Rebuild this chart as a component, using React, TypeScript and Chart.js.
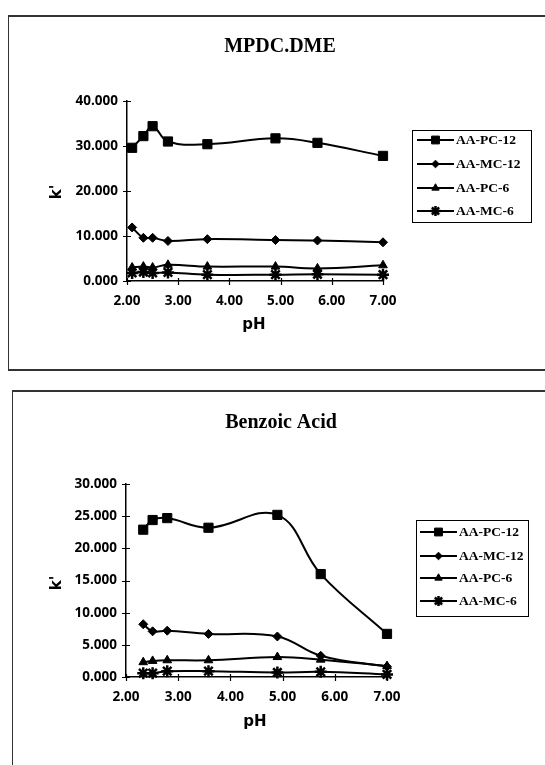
import React, { useEffect, useRef } from 'react';
import { Chart, registerables } from 'chart.js';
import { drawPoint } from 'chart.js/helpers';

Chart.register(...registerables);

// Series shared by both panels
const seriesNames = ['AA-PC-12', 'AA-MC-12', 'AA-PC-6', 'AA-MC-6'];
const seriesMarkers = ['rect', 'rectRot', 'triangle', 'star'];
const markerRadii = [6.5, 4.5, 5, 6];
const markerBorders = [1, 1, 1, 2.5];

// Shared x axis (pH)
const xTickValues = [2, 3, 4, 5, 6, 7];

// MPDC.DME panel
const mpdcPH = [2.1, 2.32, 2.5, 2.8, 3.57, 4.9, 5.72, 7.0];
const mpdcPC12 = [29.6, 32.2, 34.4, 31.0, 30.4, 31.7, 30.7, 27.8];
const mpdcMC12 = [11.9, 9.6, 9.6, 8.9, 9.3, 9.1, 9.0, 8.6];
const mpdcPC6 = [3.0, 3.2, 3.0, 3.6, 3.2, 3.2, 2.8, 3.5];
const mpdcMC6 = [1.8, 2.0, 1.8, 1.9, 1.4, 1.4, 1.5, 1.4];
const mpdcYTicks = [0, 10, 20, 30, 40];

// Benzoic Acid panel
const benzPH = [2.33, 2.51, 2.79, 3.58, 4.9, 5.73, 7.0];
const benzPC12 = [22.9, 24.4, 24.7, 23.2, 25.2, 16.0, 6.7];
const benzMC12 = [8.2, 7.1, 7.2, 6.7, 6.3, 3.3, 1.6];
const benzPC6 = [2.3, 2.5, 2.6, 2.6, 3.1, 2.7, 1.7];
const benzMC6 = [0.6, 0.6, 0.9, 0.9, 0.7, 0.8, 0.4];
const benzYTicks = [0, 5, 10, 15, 20, 25, 30];

const TICK_FONT = { family: '"Open Sans", sans-serif', size: 13.5, weight: 'bold' as const };

// Titles, axis captions, crossing tick marks and the boxed key
const paperDecor = {
  id: 'paperDecor',
  beforeDatasetsDraw(chart: any) {
    const { ctx } = chart;
    const xs = chart.scales.x;
    const ys = chart.scales.y;
    ctx.save();
    ctx.strokeStyle = '#000';
    ctx.lineWidth = 1.2;
    ctx.beginPath();
    xs.ticks.forEach((t: any) => {
      const px = Math.round(xs.getPixelForValue(t.value)) + 0.5;
      ctx.moveTo(px, xs.top - 3);
      ctx.lineTo(px, xs.top + 4);
    });
    ys.ticks.forEach((t: any) => {
      const py = Math.round(ys.getPixelForValue(t.value)) + 0.5;
      ctx.moveTo(ys.right - 4, py);
      ctx.lineTo(ys.right + 4, py);
    });
    ctx.stroke();
    ctx.restore();
  },
  afterDraw(chart: any, _args: any, o: any) {
    const { ctx } = chart;
    ctx.save();
    ctx.fillStyle = '#000';
    ctx.textBaseline = 'middle';

    // chart title
    ctx.textAlign = 'center';
    ctx.font = 'bold 20px "Liberation Serif", serif';
    ctx.fillText(o.title, o.titleX, o.titleY);

    // axis captions
    ctx.font = 'bold 15px "DejaVu Sans", sans-serif';
    ctx.fillText('pH', o.xTitleX, o.xTitleY);
    ctx.save();
    ctx.translate(o.yTitleX, o.yTitleY);
    ctx.rotate(-Math.PI / 2);
    ctx.fillText("k'", 0, 0);
    ctx.restore();

    // key
    const k = o.key;
    ctx.lineWidth = 1;
    ctx.strokeStyle = '#000';
    ctx.strokeRect(k.x + 0.5, k.y + 0.5, k.w, k.h);
    ctx.textAlign = 'left';
    ctx.font = 'bold 13.5px "Liberation Serif", serif';
    chart.data.datasets.forEach((ds: any, i: number) => {
      const ry = k.rows[i];
      ctx.lineWidth = 2;
      ctx.beginPath();
      ctx.moveTo(k.lineX0, ry);
      ctx.lineTo(k.lineX1, ry);
      ctx.stroke();
      ctx.fillStyle = '#000';
      ctx.strokeStyle = '#000';
      ctx.lineWidth = ds.pointBorderWidth;
      drawPoint(ctx, { pointStyle: ds.pointStyle, radius: ds.pointRadius * 0.85, rotation: 0, borderWidth: ds.pointBorderWidth } as any,
        (k.lineX0 + k.lineX1) / 2, ry);
      ctx.fillText(ds.label, k.textX, ry + 1);
    });
    ctx.restore();
  },
};

type PanelProps = {
  ph: number[];
  series: number[][];
  yTicks: number[];
  width: number;
  height: number;
  area: { left: number; right: number; top: number; bottom: number };
  decor: any;
};

function Panel({ ph, series, yTicks, width, height, area, decor }: PanelProps) {
  const ref = useRef<HTMLCanvasElement | null>(null);

  useEffect(() => {
    if (!ref.current) return;
    const xAxisHeight = 30;
    const chart = new Chart(ref.current, {
      type: 'line',
      data: {
        datasets: series.map((vals, i) => ({
          label: seriesNames[i],
          data: ph.map((p, j) => ({ x: p, y: vals[j] })),
          borderColor: '#000',
          backgroundColor: '#000',
          borderWidth: 2,
          pointStyle: seriesMarkers[i] as any,
          pointRadius: markerRadii[i],
          pointBorderWidth: markerBorders[i],
          pointBackgroundColor: '#000',
          pointBorderColor: '#000',
          tension: 0.4,
          clip: false as any,
        })),
      },
      options: {
        animation: false,
        responsive: false,
        events: [],
        layout: {
          padding: {
            left: 0,
            top: area.top,
            right: width - area.right,
            bottom: height - area.bottom - xAxisHeight,
          },
        },
        plugins: {
          legend: { display: false },
          title: { display: false },
          tooltip: { enabled: false },
          paperDecor: decor,
        } as any,
        scales: {
          x: {
            type: 'linear',
            min: xTickValues[0],
            max: xTickValues[xTickValues.length - 1],
            afterBuildTicks: (s: any) => {
              s.ticks = xTickValues.map((v) => ({ value: v }));
            },
            afterFit: (s: any) => {
              s.height = xAxisHeight;
            },
            grid: { display: true, drawOnChartArea: false, drawTicks: false },
            border: { display: true, color: '#000', width: 1.5 },
            ticks: {
              color: '#000',
              padding: 12,
              font: TICK_FONT,
              maxRotation: 0,
              autoSkip: false,
              callback: (v: any) => Number(v).toFixed(2),
            },
          },
          y: {
            type: 'linear',
            min: yTicks[0],
            max: yTicks[yTicks.length - 1],
            afterBuildTicks: (s: any) => {
              s.ticks = yTicks.map((v) => ({ value: v }));
            },
            afterFit: (s: any) => {
              s.width = area.left;
            },
            grid: { display: true, drawOnChartArea: false, drawTicks: false },
            border: { display: true, color: '#000', width: 1.5 },
            ticks: {
              color: '#000',
              padding: 9,
              font: TICK_FONT,
              autoSkip: false,
              callback: (v: any) => Number(v).toFixed(3),
            },
          },
        },
      } as any,
      plugins: [paperDecor],
    });
    return () => chart.destroy();
  }, []);

  return <canvas ref={ref} width={width} height={height} style={{ display: 'block', width, height }} />;
}

export default function App() {
  return (
    <div style={{ position: 'fixed', left: 0, top: 0, width: 545, height: 765, overflow: 'hidden', background: '#fff' }}>
      {/* frame around the MPDC.DME panel */}
      <div style={{ position: 'absolute', left: 8, top: 15, width: 600, height: 352, borderTop: '2px solid #333', borderLeft: '1px solid #333', borderBottom: '2px solid #333' }} />
      {/* frame around the Benzoic Acid panel */}
      <div style={{ position: 'absolute', left: 12, top: 390, width: 600, height: 420, borderTop: '2px solid #333', borderLeft: '1px solid #333' }} />

      <div style={{ position: 'absolute', left: 0, top: 0 }}>
        <Panel
          ph={mpdcPH}
          series={[mpdcPC12, mpdcMC12, mpdcPC6, mpdcMC6]}
          yTicks={mpdcYTicks}
          width={545}
          height={385}
          area={{ left: 127, right: 383, top: 101, bottom: 281 }}
          decor={{
            title: 'MPDC.DME', titleX: 280, titleY: 47,
            xTitleX: 254, xTitleY: 325,
            yTitleX: 57, yTitleY: 192,
            key: { x: 412, y: 130, w: 119, h: 92, rows: [140, 164, 188, 211], lineX0: 417, lineX1: 454, textX: 456 },
          }}
        />
      </div>
      <div style={{ position: 'absolute', left: 0, top: 385 }}>
        <Panel
          ph={benzPH}
          series={[benzPC12, benzMC12, benzPC6, benzMC6]}
          yTicks={benzYTicks}
          width={545}
          height={380}
          area={{ left: 126, right: 387, top: 99, bottom: 292 }}
          decor={{
            title: 'Benzoic Acid', titleX: 281, titleY: 38,
            xTitleX: 255, xTitleY: 337,
            yTitleX: 57, yTitleY: 198,
            key: { x: 416, y: 135, w: 112, h: 96, rows: [147, 171, 193, 216], lineX0: 420, lineX1: 457, textX: 459 },
          }}
        />
      </div>
    </div>
  );
}
